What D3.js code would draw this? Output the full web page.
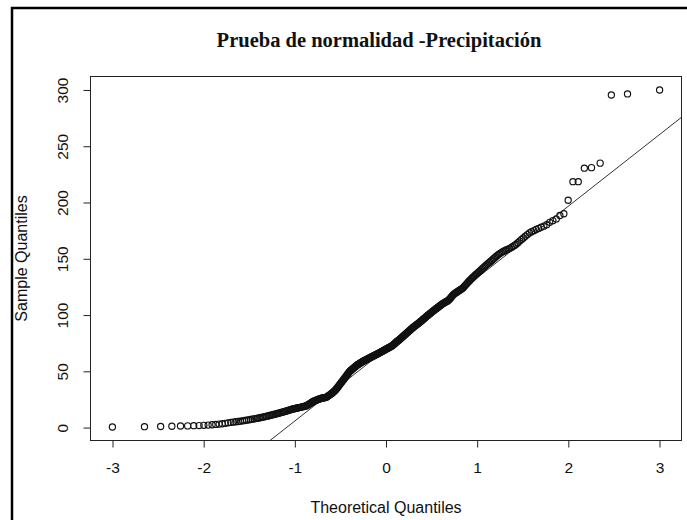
<!DOCTYPE html>
<html>
<head>
<meta charset="utf-8">
<script src="https://cdn.jsdelivr.net/npm/d3@7.9.0/dist/d3.min.js"></script>
<style>
  body { margin: 0; background: #fff; }
  svg text { font-family: "Liberation Sans", Arial, sans-serif; fill: #111; }
</style>
</head>
<body>
<svg id="chart" width="687" height="520"></svg>
<script>
const title = 'Prueba de normalidad -Precipitación';
const xLabel = 'Theoretical Quantiles';
const yLabel = 'Sample Quantiles';
const xTicks = [-3, -2, -1, 0, 1, 2, 3];
const yTicks = [0, 50, 100, 150, 200, 250, 300];

// sorted sample values
const precip = [
  0.5, 0.8, 1.0, 1.2, 1.4, 1.5, 1.7, 1.8, 2.0, 2.2,
  2.5, 2.8, 3.1, 3.4, 3.8, 4.2, 4.6, 4.9, 5.2, 5.4,
  5.7, 6.0, 6.3, 6.6, 6.9, 7.2, 7.5, 7.8, 8.0, 8.3,
  8.6, 8.9, 9.2, 9.5, 9.8, 10.1, 10.4, 10.7, 11.0, 11.3,
  11.6, 11.9, 12.2, 12.5, 12.8, 13.1, 13.4, 13.7, 14.0, 14.3,
  14.6, 14.9, 15.2, 15.5, 15.8, 16.1, 16.4, 16.6, 16.8, 17.0,
  17.2, 17.4, 17.6, 17.8, 18.0, 18.2, 18.4, 18.6, 18.8, 19.0,
  19.2, 19.5, 20.0, 20.5, 21.0, 21.5, 22.0, 22.5, 23.0, 23.4,
  23.7, 24.0, 24.3, 24.6, 24.9, 25.2, 25.5, 25.7, 25.9, 26.1,
  26.3, 26.4, 26.5, 26.6, 26.8, 27.1, 27.5, 28.0, 28.4, 28.9,
  29.3, 29.8, 30.3, 30.8, 31.4, 32.0, 32.6, 33.2, 33.9, 34.7,
  35.5, 36.3, 37.2, 38.0, 38.8, 39.6, 40.4, 41.2, 42.0, 42.8,
  43.6, 44.4, 45.2, 46.0, 46.8, 47.6, 48.4, 49.2, 50.0, 50.5,
  51.0, 51.5, 52.0, 52.5, 53.0, 53.5, 54.0, 54.5, 55.0, 55.4,
  55.8, 56.1, 56.5, 56.9, 57.3, 57.6, 58.0, 58.4, 58.7, 59.0,
  59.3, 59.6, 59.9, 60.2, 60.5, 60.8, 61.1, 61.4, 61.7, 62.0,
  62.3, 62.5, 62.8, 63.1, 63.4, 63.6, 63.9, 64.2, 64.5, 64.8,
  65.0, 65.3, 65.6, 65.9, 66.2, 66.5, 66.8, 67.1, 67.4, 67.7,
  68.0, 68.3, 68.6, 68.9, 69.2, 69.5, 69.8, 70.1, 70.4, 70.7,
  71.0, 71.3, 71.6, 71.9, 72.2, 72.5, 72.9, 73.3, 73.8, 74.3,
  74.8, 75.3, 75.8, 76.3, 76.8, 77.2, 77.6, 78.0, 78.5, 79.0,
  79.5, 80.0, 80.5, 81.0, 81.5, 82.0, 82.5, 83.0, 83.5, 84.0,
  84.5, 85.0, 85.5, 86.0, 86.5, 87.0, 87.5, 88.0, 88.5, 89.0,
  89.5, 89.9, 90.4, 90.8, 91.3, 91.7, 92.2, 92.6, 93.1, 93.5,
  94.0, 94.4, 94.9, 95.4, 96.0, 96.5, 97.0, 97.5, 98.0, 98.6,
  99.1, 99.6, 100.1, 100.6, 101.1, 101.6, 102.1, 102.6, 103.1, 103.6,
  104.1, 104.6, 105.1, 105.6, 106.1, 106.5, 107.0, 107.5, 108.0, 108.5,
  109.0, 109.5, 110.0, 110.4, 110.8, 111.2, 111.6, 112.0, 112.3, 112.7,
  113.3, 114.0, 114.8, 115.6, 116.5, 117.4, 118.2, 118.8, 119.3, 119.8,
  120.3, 120.8, 121.3, 121.8, 122.3, 122.8, 123.3, 123.8, 124.6, 125.5,
  126.4, 127.3, 128.2, 129.1, 130.0, 130.8, 131.7, 132.5, 133.4, 134.2,
  135.0, 135.8, 136.6, 137.4, 138.2, 139.0, 139.9, 140.8, 141.7, 142.6,
  143.5, 144.4, 145.3, 146.2, 147.0, 147.9, 148.8, 149.8, 150.8, 151.8,
  152.8, 153.7, 154.5, 155.3, 156.1, 156.8, 157.4, 158.0, 158.6, 159.3,
  160.0, 160.9, 161.9, 163.0, 164.3, 165.7, 167.1, 168.5, 170.0, 171.5,
  173.0, 174.0, 175.0, 176.0, 177.0, 178.0, 179.0, 180.3, 182.4, 183.9,
  185.4, 188.5, 190.0, 202.0, 218.5, 218.5, 230.5, 231.0, 235.0, 295.5,
  296.5, 300.0
];

// inverse normal cdf (Acklam)
function qnorm(p) {
  const a = [-39.69683028665376, 220.9460984245205, -275.9285104469687, 138.3577518672690, -30.66479806614716, 2.506628277459239];
  const b = [-54.47609879822406, 161.5858368580409, -155.6989798598866, 66.80131188771972, -13.28068155288572];
  const c = [-0.007784894002430293, -0.3223964580411365, -2.400758277161838, -2.549732539343734, 4.374664141464968, 2.938163982698783];
  const d = [0.007784695709041462, 0.3224671290700398, 2.445134137142996, 3.754408661907416];
  const pl = 0.02425;
  if (p < pl) {
    const q = Math.sqrt(-2 * Math.log(p));
    return (((((c[0]*q+c[1])*q+c[2])*q+c[3])*q+c[4])*q+c[5]) / ((((d[0]*q+d[1])*q+d[2])*q+d[3])*q+1);
  }
  if (p > 1 - pl) {
    const q = Math.sqrt(-2 * Math.log(1 - p));
    return -(((((c[0]*q+c[1])*q+c[2])*q+c[3])*q+c[4])*q+c[5]) / ((((d[0]*q+d[1])*q+d[2])*q+d[3])*q+1);
  }
  const q = p - 0.5, r = q * q;
  return (((((a[0]*r+a[1])*r+a[2])*r+a[3])*r+a[4])*r+a[5])*q / (((((b[0]*r+b[1])*r+b[2])*r+b[3])*r+b[4])*r+1);
}

const n = precip.length;
const points = precip.map((v, i) => ({ x: qnorm((i + 0.5) / n), y: v }));

// R style 4% padding on both axes
function padded(ext) {
  const r = ext[1] - ext[0];
  return [ext[0] - 0.04 * r, ext[1] + 0.04 * r];
}

const box = { left: 90.5, right: 681.5, top: 76.5, bottom: 440.5 };

const x = d3.scaleLinear()
  .domain(padded(d3.extent(points, d => d.x)))
  .range([box.left, box.right]);
const y = d3.scaleLinear()
  .domain(padded(d3.extent(points, d => d.y)))
  .range([box.bottom, box.top]);

const svg = d3.select('#chart');

// outer frame
svg.append('rect')
  .attr('x', 12).attr('y', 8)
  .attr('width', 720).attr('height', 540)
  .attr('fill', 'none')
  .attr('stroke', '#000')
  .attr('stroke-width', 2.5);

svg.append('defs').append('clipPath').attr('id', 'clip')
  .append('rect')
  .attr('x', box.left).attr('y', box.top)
  .attr('width', box.right - box.left).attr('height', box.bottom - box.top);

// qqline through the quartiles
const q1 = d3.quantile(precip, 0.25), q3 = d3.quantile(precip, 0.75);
const z1 = qnorm(0.25), z3 = qnorm(0.75);
const slope = (q3 - q1) / (z3 - z1);
const intercept = q1 - slope * z1;
const xd = x.domain();

svg.append('line')
  .attr('clip-path', 'url(#clip)')
  .attr('x1', x(xd[0])).attr('y1', y(intercept + slope * xd[0]))
  .attr('x2', x(xd[1])).attr('y2', y(intercept + slope * xd[1]))
  .attr('stroke', '#333')
  .attr('stroke-width', 1);

svg.append('g')
  .selectAll('circle')
  .data(points)
  .join('circle')
  .attr('cx', d => x(d.x))
  .attr('cy', d => y(d.y))
  .attr('r', 3.1)
  .attr('fill', 'none')
  .attr('stroke', '#111')
  .attr('stroke-width', 1.15);

// plot box
svg.append('rect')
  .attr('x', box.left).attr('y', box.top)
  .attr('width', box.right - box.left).attr('height', box.bottom - box.top)
  .attr('fill', 'none')
  .attr('stroke', '#222')
  .attr('stroke-width', 1);

const xAxis = svg.append('g')
  .attr('transform', `translate(0,${box.bottom})`)
  .call(d3.axisBottom(x).tickValues(xTicks).tickSize(7).tickPadding(14).tickFormat(d3.format('d')));
xAxis.select('.domain').remove();
xAxis.selectAll('line').attr('stroke', '#222');
xAxis.selectAll('text').attr('font-size', 15.5).attr('fill', '#111')
  .text(d => String(d).replace('−', '-'));

const yAxis = svg.append('g')
  .attr('transform', `translate(${box.left},0)`)
  .call(d3.axisLeft(y).tickValues(yTicks).tickSize(7));
yAxis.select('.domain').remove();
yAxis.selectAll('line').attr('stroke', '#222');
yAxis.selectAll('text')
  .attr('font-size', 15.5).attr('fill', '#111')
  .attr('x', null)
  .attr('text-anchor', 'middle')
  .attr('transform', 'translate(-28,0) rotate(-90)')
  .attr('dy', '0.35em');

svg.append('text')
  .attr('x', 379).attr('y', 47)
  .attr('text-anchor', 'middle')
  .style('font-family', '"Liberation Serif", "Times New Roman", serif')
  .style('font-weight', 'bold')
  .attr('font-size', 20.5)
  .attr('fill', '#000')
  .text(title);

svg.append('text')
  .attr('x', (box.left + box.right) / 2).attr('y', 513)
  .attr('text-anchor', 'middle')
  .attr('font-size', 16)
  .text(xLabel);

svg.append('text')
  .attr('transform', `translate(27,${(box.top + box.bottom) / 2}) rotate(-90)`)
  .attr('text-anchor', 'middle')
  .attr('font-size', 16)
  .text(yLabel);
</script>
</body>
</html>
